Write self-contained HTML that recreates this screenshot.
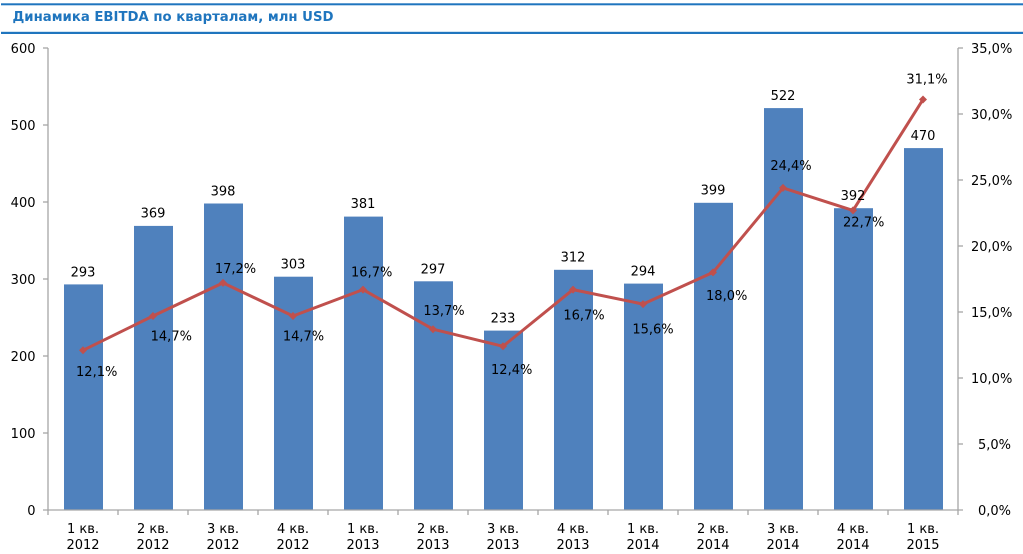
<!DOCTYPE html>
<html><head><meta charset="utf-8"><style>
html,body{margin:0;padding:0;background:#fff;}
svg{display:block;}
text{font-family:"DejaVu Sans","Liberation Sans",sans-serif;font-size:13px;fill:#000;}
</style></head><body>
<svg width="1023" height="554" viewBox="0 0 1023 554" xmlns="http://www.w3.org/2000/svg">
<rect x="0" y="0" width="1023" height="554" fill="#fff"/>
<rect x="1" y="3.3" width="1022" height="2" fill="#1F75BE"/>
<rect x="1" y="31.8" width="1022" height="2.2" fill="#1F75BE"/>
<text x="12.5" y="21" style="font-weight:bold;font-size:13.5px;fill:#1F75BE" textLength="321" lengthAdjust="spacingAndGlyphs">Динамика EBITDA по кварталам, млн USD</text>

<!-- bars -->
<g fill="#4F81BD">
<rect x="64" y="284.4" width="39" height="225.6"/>
<rect x="134" y="225.9" width="39" height="284.1"/>
<rect x="204" y="203.5" width="39" height="306.5"/>
<rect x="274" y="276.7" width="39" height="233.3"/>
<rect x="344" y="216.6" width="39" height="293.4"/>
<rect x="414" y="281.3" width="39" height="228.7"/>
<rect x="484" y="330.6" width="39" height="179.4"/>
<rect x="554" y="269.8" width="39" height="240.2"/>
<rect x="624" y="283.6" width="39" height="226.4"/>
<rect x="694" y="202.8" width="39" height="307.2"/>
<rect x="764" y="108.1" width="39" height="401.9"/>
<rect x="834" y="208.2" width="39" height="301.8"/>
<rect x="904" y="148.1" width="39" height="361.9"/>
</g>

<!-- axes -->
<g stroke="#A6A6A6" stroke-width="1.3" fill="none">
<line x1="48" y1="48" x2="48" y2="510"/>
<line x1="958" y1="48" x2="958" y2="510"/>
<line x1="43" y1="510" x2="963" y2="510"/>
<line x1="43" y1="48" x2="48" y2="48"/>
<line x1="43" y1="125" x2="48" y2="125"/>
<line x1="43" y1="202" x2="48" y2="202"/>
<line x1="43" y1="279" x2="48" y2="279"/>
<line x1="43" y1="356" x2="48" y2="356"/>
<line x1="43" y1="433" x2="48" y2="433"/>
<line x1="958" y1="48" x2="963" y2="48"/>
<line x1="958" y1="114" x2="963" y2="114"/>
<line x1="958" y1="180" x2="963" y2="180"/>
<line x1="958" y1="246" x2="963" y2="246"/>
<line x1="958" y1="312" x2="963" y2="312"/>
<line x1="958" y1="378" x2="963" y2="378"/>
<line x1="958" y1="444" x2="963" y2="444"/>
<line x1="48" y1="510" x2="48" y2="515"/>
<line x1="118" y1="510" x2="118" y2="515"/>
<line x1="188" y1="510" x2="188" y2="515"/>
<line x1="258" y1="510" x2="258" y2="515"/>
<line x1="328" y1="510" x2="328" y2="515"/>
<line x1="398" y1="510" x2="398" y2="515"/>
<line x1="468" y1="510" x2="468" y2="515"/>
<line x1="538" y1="510" x2="538" y2="515"/>
<line x1="608" y1="510" x2="608" y2="515"/>
<line x1="678" y1="510" x2="678" y2="515"/>
<line x1="748" y1="510" x2="748" y2="515"/>
<line x1="818" y1="510" x2="818" y2="515"/>
<line x1="888" y1="510" x2="888" y2="515"/>
<line x1="958" y1="510" x2="958" y2="515"/>
</g>

<!-- left axis labels -->
<g text-anchor="end">
<text x="35.5" y="53">600</text>
<text x="35.5" y="130">500</text>
<text x="35.5" y="207">400</text>
<text x="35.5" y="284">300</text>
<text x="35.5" y="361">200</text>
<text x="35.5" y="438">100</text>
<text x="35.5" y="515">0</text>
</g>
<!-- right axis labels -->
<g text-anchor="start">
<text x="971" y="53">35,0%</text>
<text x="971" y="119">30,0%</text>
<text x="971" y="185">25,0%</text>
<text x="971" y="251">20,0%</text>
<text x="971" y="317">15,0%</text>
<text x="971" y="383">10,0%</text>
<text x="978" y="449">5,0%</text>
<text x="978" y="515">0,0%</text>
</g>

<!-- x labels -->
<g text-anchor="middle">
<text x="83" y="533">1 кв.</text><text x="83" y="549">2012</text>
<text x="153" y="533">2 кв.</text><text x="153" y="549">2012</text>
<text x="223" y="533">3 кв.</text><text x="223" y="549">2012</text>
<text x="293" y="533">4 кв.</text><text x="293" y="549">2012</text>
<text x="363" y="533">1 кв.</text><text x="363" y="549">2013</text>
<text x="433" y="533">2 кв.</text><text x="433" y="549">2013</text>
<text x="503" y="533">3 кв.</text><text x="503" y="549">2013</text>
<text x="573" y="533">4 кв.</text><text x="573" y="549">2013</text>
<text x="643" y="533">1 кв.</text><text x="643" y="549">2014</text>
<text x="713" y="533">2 кв.</text><text x="713" y="549">2014</text>
<text x="783" y="533">3 кв.</text><text x="783" y="549">2014</text>
<text x="853" y="533">4 кв.</text><text x="853" y="549">2014</text>
<text x="923" y="533">1 кв.</text><text x="923" y="549">2015</text>
</g>

<!-- line -->
<polyline fill="none" stroke="#C0504D" stroke-width="3" stroke-linejoin="round"
 points="83,350.3 153,316 223,282.9 293,316 363,289.6 433,329.2 503,346.3 573,289.6 643,304.1 713,272.4 783,187.9 853,210.4 923,99.5"/>
<g fill="#C0504D">
<path d="M83 346.3 L87 350.3 L83 354.3 L79 350.3Z"/>
<path d="M153 312 L157 316 L153 320 L149 316Z"/>
<path d="M223 278.9 L227 282.9 L223 286.9 L219 282.9Z"/>
<path d="M293 312 L297 316 L293 320 L289 316Z"/>
<path d="M363 285.6 L367 289.6 L363 293.6 L359 289.6Z"/>
<path d="M433 325.2 L437 329.2 L433 333.2 L429 329.2Z"/>
<path d="M503 342.3 L507 346.3 L503 350.3 L499 346.3Z"/>
<path d="M573 285.6 L577 289.6 L573 293.6 L569 289.6Z"/>
<path d="M643 300.1 L647 304.1 L643 308.1 L639 304.1Z"/>
<path d="M713 268.4 L717 272.4 L713 276.4 L709 272.4Z"/>
<path d="M783 183.9 L787 187.9 L783 191.9 L779 187.9Z"/>
<path d="M853 206.4 L857 210.4 L853 214.4 L849 210.4Z"/>
<path d="M923 95.5 L927 99.5 L923 103.5 L919 99.5Z"/>
</g>

<!-- bar value labels -->
<g text-anchor="middle">
<text x="83" y="276.3">293</text>
<text x="153" y="217.5">369</text>
<text x="223" y="195.3">398</text>
<text x="293" y="268.3">303</text>
<text x="363" y="208">381</text>
<text x="433" y="273.3">297</text>
<text x="503" y="322.3">233</text>
<text x="573" y="261.5">312</text>
<text x="643" y="275.3">294</text>
<text x="713" y="194.6">399</text>
<text x="783" y="99.8">522</text>
<text x="853" y="199.8">392</text>
<text x="923" y="140">470</text>
</g>

<!-- percent labels -->
<g text-anchor="middle">
<text x="96.7" y="376">12,1%</text>
<text x="171.3" y="340.5">14,7%</text>
<text x="235.5" y="272.8">17,2%</text>
<text x="303.5" y="340.5">14,7%</text>
<text x="371.7" y="276.7">16,7%</text>
<text x="444" y="315">13,7%</text>
<text x="511.7" y="374">12,4%</text>
<text x="584" y="319.3">16,7%</text>
<text x="653" y="333.3">15,6%</text>
<text x="726.7" y="300">18,0%</text>
<text x="791" y="170">24,4%</text>
<text x="863.7" y="226.7">22,7%</text>
<text x="927" y="83.3">31,1%</text>
</g>
</svg>
</body></html>
